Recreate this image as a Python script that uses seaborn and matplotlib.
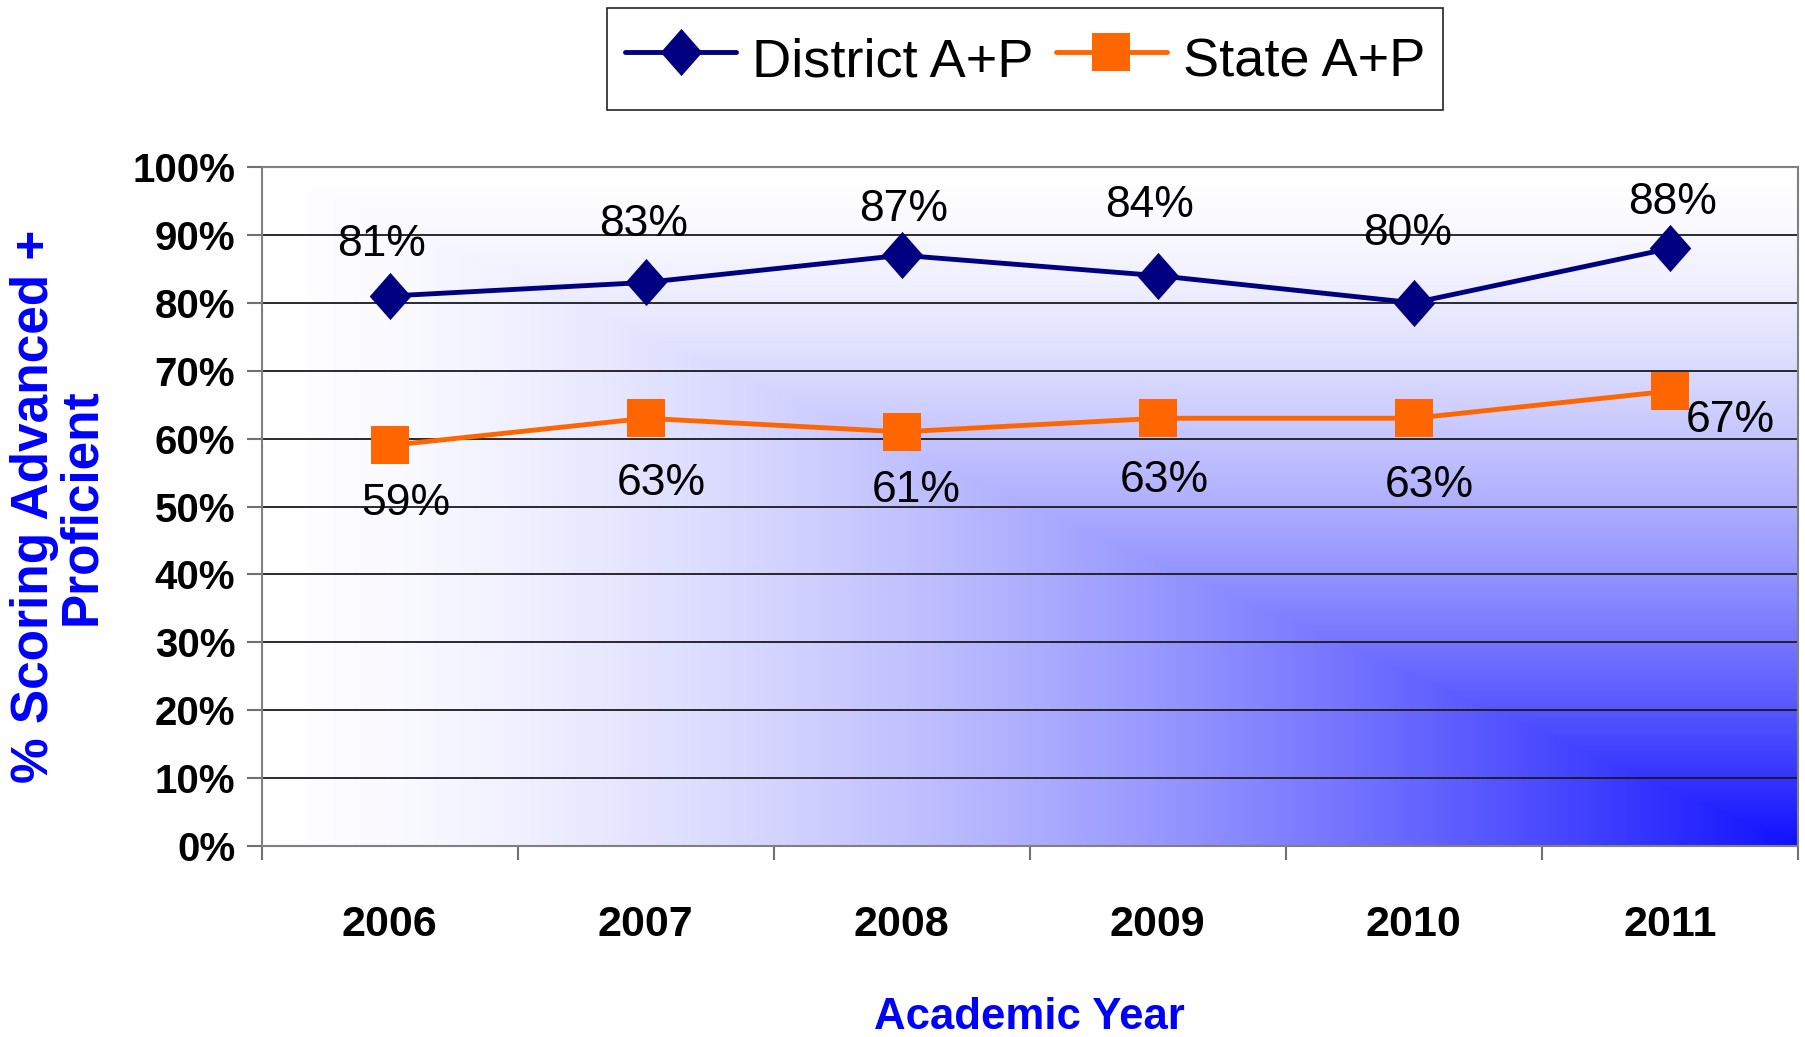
"""
District vs state A+P percentages, redrawn from the old slide chart.
"""

import numpy as np
import pandas as pd
import seaborn as sns
import matplotlib.pyplot as plt

# Data.
years = ["2006", "2007", "2008", "2009", "2010", "2011"]
district_ap = [81, 83, 87, 84, 80, 88]
state_ap = [59, 63, 61, 63, 63, 67]
y_ticks = [0, 10, 20, 30, 40, 50, 60, 70, 80, 90, 100]

district_offsets = [(-8, 52), (-2, 58), (2, 46), (-8, 70), (-6, 69), (3, 46)]
state_offsets = [(16, -58), (16, -65), (15, -59), (7, -62), (16, -67), (61, -29)]

NAVY = "#000080"
ORANGE = "#ff6600"
BLUE = "#0000ff"

sns.set_theme(style="white")
plt.rcParams["font.family"] = ["Liberation Sans", "DejaVu Sans"]
plt.rcParams["text.color"] = "black"

df = pd.DataFrame({
    "Year": years * 2,
    "Score": district_ap + state_ap,
    "Series": ["District A+P"] * len(years) + ["State A+P"] * len(years),
})

fig = plt.figure(figsize=(18.05, 10.37), dpi=100)
ax = fig.add_axes([0.145, 0.184, 0.851, 0.655])

# Background: corner gradient, white fading to blue at the bottom right.
nx, ny = 900, 450
u = np.linspace(1, 0, nx)[None, :]
v = np.linspace(0, 1, ny)[:, None]
s = (1 - np.maximum(u, v)) ** 1.55
white = np.array([1.0, 1.0, 1.0])
blue = np.array([16, 16, 255]) / 255
img = white * (1 - s[..., None]) + blue * s[..., None]
ax.imshow(img, extent=(-0.5, 5.5, 0, 100), origin="lower", aspect="auto", zorder=0)

diamond = [(0, 1), (0.88, 0), (0, -1), (-0.88, 0), (0, 1)]

sns.lineplot(
    data=df[df["Series"] == "District A+P"], x="Year", y="Score",
    color=NAVY, marker=diamond, markersize=34, markeredgewidth=0,
    linewidth=3.5, label="District A+P", ax=ax, zorder=3,
)
sns.lineplot(
    data=df[df["Series"] == "State A+P"], x="Year", y="Score",
    color=ORANGE, marker="s", markersize=27, markeredgewidth=0,
    linewidth=3.5, label="State A+P", ax=ax, zorder=3,
)

# Value labels.
for i, (val, off) in enumerate(zip(district_ap, district_offsets)):
    ax.annotate(f"{val}%", xy=(i, val), xytext=off, textcoords="offset pixels",
                ha="center", va="center", fontsize=32, color="black", zorder=4)
for i, (val, off) in enumerate(zip(state_ap, state_offsets)):
    ax.annotate(f"{val}%", xy=(i, val), xytext=off, textcoords="offset pixels",
                ha="center", va="center", fontsize=32, color="black", zorder=4)

ax.set_xlim(-0.5, 5.5)
ax.set_ylim(0, 100)

# Major x ticks are the category dividers, labels ride on minor ticks.
ax.set_xticks(np.arange(-0.5, 6, 1.0))
ax.set_xticklabels([])
ax.set_xticks(range(len(years)), minor=True)
ax.set_xticklabels(years, minor=True, fontsize=31, fontweight="bold")
ax.tick_params(axis="x", which="major", direction="out", length=10, width=1.5,
               color="#707070", bottom=True)
ax.tick_params(axis="x", which="minor", length=0, pad=42, labelcolor="black")

ax.set_yticks(y_ticks)
ax.set_yticklabels([f"{t}%" for t in y_ticks], fontsize=29, fontweight="bold")
ax.tick_params(axis="y", direction="out", length=11, width=1.5, color="#707070",
               left=True, pad=8, labelcolor="black")

ax.yaxis.grid(True, color="#1a1a1a", linewidth=1.3)
ax.xaxis.grid(False)
for side in ["left", "right", "top", "bottom"]:
    ax.spines[side].set_visible(True)
    ax.spines[side].set_color("#808080")
    ax.spines[side].set_linewidth(1.5)

ax.set_xlabel("Academic Year", fontsize=31.5, fontweight="bold", color=BLUE)
ax.xaxis.set_label_coords(0.5, -0.222)
ax.set_ylabel("% Scoring Advanced +\nProficient", fontsize=37, fontweight="bold",
              color=BLUE, multialignment="center", linespacing=0.95)
ax.yaxis.set_label_coords(-0.101, 0.5)

leg = ax.legend(
    loc="center", bbox_to_anchor=(0.568, 0.943), bbox_transform=fig.transFigure,
    ncol=2, frameon=True, fancybox=False, framealpha=1, edgecolor="#222222",
    prop={"size": 39}, handlelength=2.05, handleheight=1.5, columnspacing=0.4,
    handletextpad=0.3, borderpad=0.33,
)
leg.get_frame().set_linewidth(1.2)
for text in leg.get_texts():
    text.set_color("black")

fig.savefig("out.png", dpi=100)
